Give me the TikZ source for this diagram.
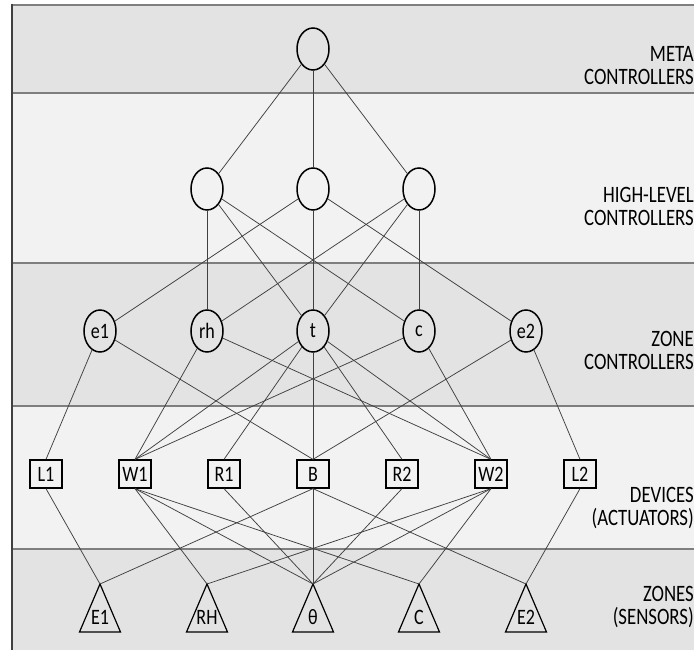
\documentclass[tikz,border=0pt]{standalone}
\usepackage{fontspec}
\setmainfont{Carlito}
\newfontfamily\tallfont{Carlito}[FakeStretch=0.8]
\newfontfamily\nodefont{Carlito}[FakeStretch=0.82]
\usetikzlibrary{shapes.geometric}
\definecolor{banddark}{HTML}{E3E3E3}
\definecolor{bandlight}{HTML}{F2F2F2}
\definecolor{bandline}{HTML}{7F7F7F}
\definecolor{edgecol}{HTML}{404040}
\begin{document}
\begin{tikzpicture}[x=1pt,y=-1pt,
  edge/.style={draw=edgecol, line width=0.75pt},
  circ/.style={ellipse, draw=black, line width=1.5pt, minimum width=32pt, minimum height=42pt, inner sep=0pt, font=\nodefont\fontsize{22}{22}\selectfont},
  dev/.style={rectangle, draw=black, line width=1.3pt, minimum width=32pt, minimum height=28pt, inner sep=1pt, font=\nodefont\fontsize{22}{22}\selectfont},
  trishape/.style={draw=black, line width=1.2pt, line join=miter},
  trilabel/.style={inner sep=0pt, font=\nodefont\fontsize{22}{22}\selectfont},
  lab/.style={anchor=east, align=right, inner sep=0pt, font=\tallfont\fontsize{23.5}{23}\selectfont},
  bline/.style={draw=bandline, line width=2pt},
  lborder/.style={draw=edgecol, line width=1.5pt}
]
\useasboundingbox (0,0) rectangle (694,650);
% bands
\fill[banddark] (12,5) rectangle (710,93);
\fill[bandlight] (12,93) rectangle (710,263);
\fill[banddark] (12,263) rectangle (710,406);
\fill[bandlight] (12,406) rectangle (710,549);
\fill[banddark] (12,549) rectangle (710,660);
\draw[bline] (12,5) -- (710,5);
\draw[bline] (12,93) -- (710,93);
\draw[bline] (12,263) -- (710,263);
\draw[bline] (12,406) -- (710,406);
\draw[bline] (12,549) -- (710,549);
\draw[lborder] (12,4) -- (12,660);

% layer labels
\node[lab] (lmeta) at (694,66) {META\\CONTROLLERS};
\node[lab] (lhigh) at (694,206) {HIGH-LEVEL\\CONTROLLERS};
\node[lab] (lzone) at (694,350) {ZONE\\CONTROLLERS};
\node[lab] (ldev) at (694,508) {DEVICES\\(ACTUATORS)};
\node[lab] (lsens) at (694,607) {ZONES\\(SENSORS)};

% meta
\node[circ] (M) at (313,49) {};
% high level
\node[circ] (H1) at (207,189) {};
\node[circ] (H2) at (313,189) {};
\node[circ] (H3) at (419,189) {};
% zone controllers
\node[circ] (e1) at (100,331) {e1};
\node[circ] (rh) at (207,331) {rh};
\node[circ] (t) at (313,331) {t};
\node[circ] (c) at (419,331) {c};
\node[circ] (e2) at (526,331) {e2};
% devices
\node[dev] (L1) at (46,474) {L1};
\node[dev] (W1) at (135,474) {W1};
\node[dev] (R1) at (224,474) {R1};
\node[dev] (B) at (313,474) {B};
\node[dev] (R2) at (402,474) {R2};
\node[dev] (W2) at (491,474) {W2};
\node[dev] (L2) at (580,474) {L2};
% sensors (apex coordinates)
\coordinate (E1) at (100,584);
\coordinate (RH) at (207,584);
\coordinate (TH) at (313,584);
\coordinate (C) at (419,584);
\coordinate (E2) at (526,584);
\foreach \s in {E1,RH,TH,C,E2}{
  \draw[trishape] (\s) -- ++(20.5,48) -- ++(-41,0) -- cycle;
}
\node[trilabel] (lE1) at (100,617) {E1};
\node[trilabel] (lRH) at (207,617) {RH};
\node[trilabel] (lTH) at (313,617) {θ};
\node[trilabel] (lC) at (419,617) {C};
\node[trilabel] (lE2) at (526,617) {E2};

% edges meta -> high
\draw[edge] (M) -- (H1);
\draw[edge] (M) -- (H2);
\draw[edge] (M) -- (H3);
% high -> zone
\draw[edge] (H1) -- (rh);
\draw[edge] (H1) -- (t);
\draw[edge] (H1) -- (c);
\draw[edge] (H2) -- (e1);
\draw[edge] (H2) -- (t);
\draw[edge] (H2) -- (e2);
\draw[edge] (H3) -- (rh);
\draw[edge] (H3) -- (t);
\draw[edge] (H3) -- (c);
% zone -> devices
\draw[edge] (e1) -- (L1.north);
\draw[edge] (e1) -- (B.north);
\draw[edge] (rh) -- (W1.north);
\draw[edge] (rh) -- (W2.north);
\draw[edge] (t) -- (W1.north);
\draw[edge] (t) -- (R1.north);
\draw[edge] (t) -- (B.north);
\draw[edge] (t) -- (R2.north);
\draw[edge] (t) -- (W2.north);
\draw[edge] (c) -- (W1.north);
\draw[edge] (c) -- (W2.north);
\draw[edge] (e2) -- (B.north);
\draw[edge] (e2) -- (L2.north);
% devices -> sensors
\draw[edge] (L1.south) -- (E1);
\draw[edge] (W1.south) -- (RH);
\draw[edge] (W1.south) -- (TH);
\draw[edge] (W1.south) -- (C);
\draw[edge] (R1.south) -- (TH);
\draw[edge] (B.south) -- (E1);
\draw[edge] (B.south) -- (TH);
\draw[edge] (B.south) -- (E2);
\draw[edge] (R2.south) -- (TH);
\draw[edge] (W2.south) -- (RH);
\draw[edge] (W2.south) -- (TH);
\draw[edge] (W2.south) -- (C);
\draw[edge] (L2.south) -- (E2);
\end{tikzpicture}
\end{document}
